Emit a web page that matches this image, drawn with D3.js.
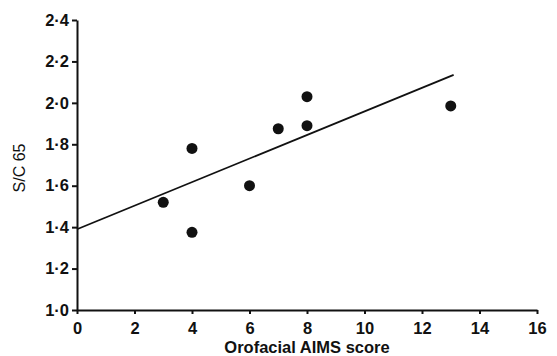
<!DOCTYPE html>
<html>
<head>
<meta charset="utf-8">
<script src="https://cdn.jsdelivr.net/npm/d3@7"></script>
<style>
  body { margin: 0; background: #fff; }
  svg text { font-family: "Liberation Sans", Arial, sans-serif; fill: #111; }
</style>
</head>
<body>
<div id="chart"></div>
<script>
const aimsScore = [3, 4, 4, 6, 7, 8, 8, 13];
const sc65 = [1.52, 1.78, 1.375, 1.60, 1.875, 2.03, 1.89, 1.985];
// regression line ends
const fitX = [0, 13.1];
const fitY = [1.39, 2.135];
const xTicks = [0, 2, 4, 6, 8, 10, 12, 14, 16];
const yTicks = [1.0, 1.2, 1.4, 1.6, 1.8, 2.0, 2.2, 2.4];

const width = 557, height = 356;
const margin = { left: 77, right: 20, top: 20, bottom: 46 };

const svg = d3.select("#chart").append("svg")
  .attr("width", width)
  .attr("height", height);

const x = d3.scaleLinear().domain([0, 16]).range([margin.left, width - margin.right]);
const y = d3.scaleLinear().domain([1.0, 2.4]).range([height - margin.bottom, margin.top]);

const fmt = d => d.toFixed(1).replace(".", "\u00b7");

// y axis
const yAxis = svg.append("g")
  .attr("transform", `translate(${margin.left},0)`)
  .call(d3.axisLeft(y).tickValues(yTicks).tickFormat(fmt).tickSize(5).tickSizeOuter(0).tickPadding(3));

// x axis
const xAxis = svg.append("g")
  .attr("transform", `translate(0,${y(1.0)})`)
  .call(d3.axisBottom(x).tickValues(xTicks).tickFormat(d3.format("d")).tickSize(4).tickSizeOuter(0).tickPadding(6));

[xAxis, yAxis].forEach(g => {
  g.select(".domain").attr("stroke", "#111").attr("stroke-width", 2);
  g.selectAll(".tick line").attr("stroke", "#111").attr("stroke-width", 2);
  g.selectAll(".tick text")
    .style("font-size", "16.5px")
    .style("font-weight", "bold")
    .attr("fill", "#111");
});
xAxis.selectAll(".tick text").attr("dy", "0.82em");

// fitted line
svg.append("line")
  .attr("x1", x(fitX[0])).attr("y1", y(fitY[0]))
  .attr("x2", x(fitX[1])).attr("y2", y(fitY[1]))
  .attr("stroke", "#111")
  .attr("stroke-width", 1.8);

// points
svg.selectAll("circle.pt")
  .data(aimsScore.map((d, i) => ({ x: d, y: sc65[i] })))
  .enter()
  .append("circle")
  .attr("class", "pt")
  .attr("cx", d => x(d.x))
  .attr("cy", d => y(d.y))
  .attr("r", 5.5)
  .attr("fill", "#111");

// axis titles
svg.append("text")
  .text("Orofacial AIMS score")
  .attr("x", x(8))
  .attr("y", 353)
  .style("text-anchor", "middle")
  .style("font-size", "16.5px")
  .style("font-weight", "bold");

svg.append("text")
  .text("S/C 65")
  .attr("transform", "translate(25,168) rotate(-90)")
  .style("text-anchor", "middle")
  .style("font-size", "16px");
</script>
</body>
</html>
